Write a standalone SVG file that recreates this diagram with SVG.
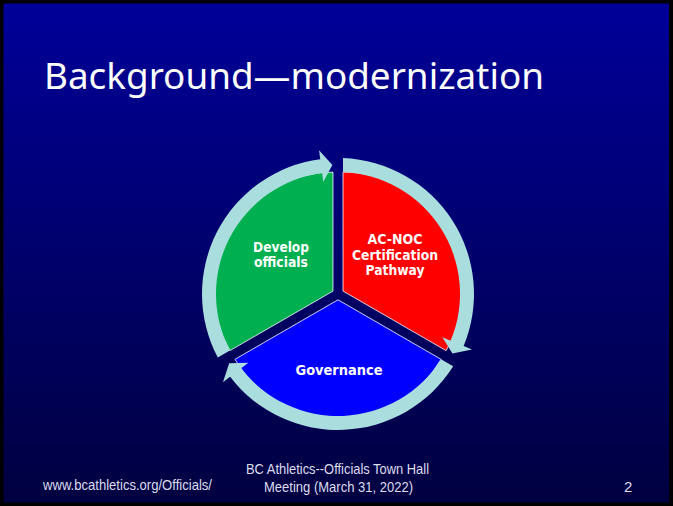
<svg xmlns="http://www.w3.org/2000/svg" xmlns:xlink="http://www.w3.org/1999/xlink" width="673" height="506" viewBox="0 0 673 506">
  <defs>
    <linearGradient id="bg" x1="0" y1="0" x2="0" y2="1">
      <stop offset="0" stop-color="#000099"/>
      <stop offset="1" stop-color="#000040"/>
    </linearGradient>
    <path id="cyc-arrow" d="M343,158.1 A136,136 0 0 1 463.65,346.05 L471.97,349.49 L452.43,353.56 L442.40,337.24 L450.72,340.69 A122,122 0 0 0 343,172.1 Z"/>
    <style>
      .seg { stroke: #FFFFFF; stroke-width: 1; stroke-opacity: 0.8; }
      .lbl { font-family: "DejaVu Sans", Verdana, sans-serif; font-weight: bold; font-size: 14px; fill: #FFFFFF; text-anchor: middle; }
      .arrow { fill: #AADDDD; }
      .foot { font-family: "Liberation Sans", Arial, sans-serif; font-size: 15px; fill: #DDDDEE; }
    </style>
  </defs>

  <rect x="0" y="0" width="673" height="506" fill="#000000"/>
  <rect x="3.5" y="3.5" width="665.5" height="499" fill="url(#bg)"/>

  <text x="44" y="89" font-family="'Noto Sans', 'Liberation Sans', sans-serif" font-size="36" fill="#FFFFFF" textLength="500" lengthAdjust="spacingAndGlyphs">Background—modernization</text>

  <g id="node-develop">
    <path class="seg" fill="#00B050" d="M332.98,291.1 L229.92,350.6 A119,119 0 0 1 332.98,172.1 Z"/>
    <text class="lbl" x="281" y="252" textLength="56" lengthAdjust="spacingAndGlyphs">Develop</text>
    <text class="lbl" x="281" y="267" textLength="54" lengthAdjust="spacingAndGlyphs">officials</text>
  </g>
  <g id="node-acnoc">
    <path class="seg" fill="#FF0000" d="M343.02,291.1 L343.02,172.1 A119,119 0 0 1 446.07,350.6 Z"/>
    <text class="lbl" x="395" y="244" textLength="55" lengthAdjust="spacingAndGlyphs">AC-NOC</text>
    <text class="lbl" x="395" y="259.5" textLength="86" lengthAdjust="spacingAndGlyphs">Certification</text>
    <text class="lbl" x="395" y="275" textLength="59" lengthAdjust="spacingAndGlyphs">Pathway</text>
  </g>
  <g id="node-governance">
    <path class="seg" fill="#0000FF" d="M338,299.8 L441.06,359.3 A119,119 0 0 1 234.94,359.3 Z"/>
    <text class="lbl" x="339" y="375" textLength="87" lengthAdjust="spacingAndGlyphs">Governance</text>
  </g>

  <g id="connectors">
    <use xlink:href="#cyc-arrow" class="arrow"/>
    <use xlink:href="#cyc-arrow" class="arrow" transform="rotate(120 338 294)"/>
    <use xlink:href="#cyc-arrow" class="arrow" transform="rotate(240 338 294)"/>
  </g>

  <text class="foot" x="43" y="490" textLength="169" lengthAdjust="spacingAndGlyphs">www.bcathletics.org/Officials/</text>
  <text class="foot" x="246" y="474.3" textLength="183" lengthAdjust="spacingAndGlyphs">BC Athletics--Officials Town Hall</text>
  <text class="foot" x="264" y="491.7" textLength="149" lengthAdjust="spacingAndGlyphs">Meeting (March 31, 2022)</text>
  <text class="foot" x="624" y="491.7">2</text>
</svg>
